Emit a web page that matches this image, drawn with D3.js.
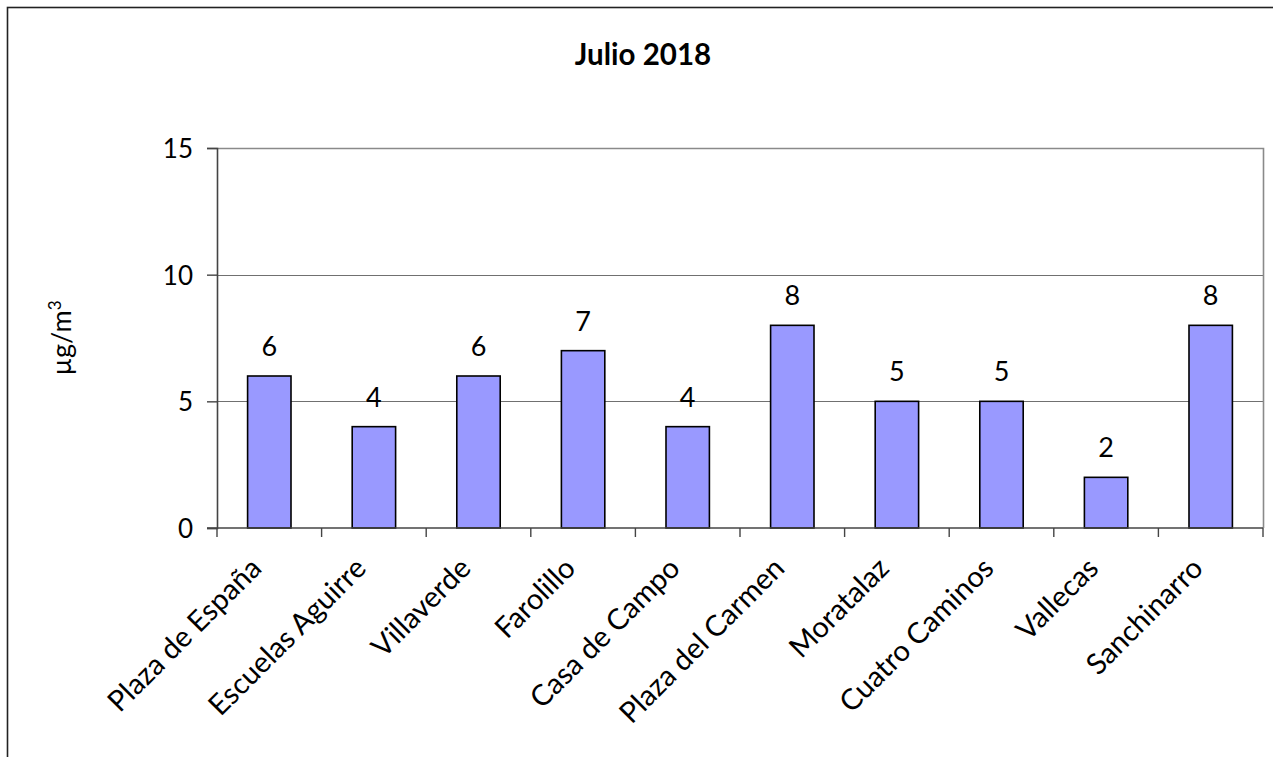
<!DOCTYPE html>
<html>
<head>
<meta charset="utf-8">
<script src="https://cdn.jsdelivr.net/npm/d3@7"></script>
<style>
  html, body { margin: 0; padding: 0; background: #ffffff; }
  svg { display: block; }
  text { font-family: Lato, "Open Sans", sans-serif; fill: #000; }
</style>
</head>
<body>
<svg id="chart" width="1273" height="757"></svg>
<script>
const title = "Julio 2018";
const categories = ["Plaza de España", "Escuelas Aguirre", "Villaverde", "Farolillo", "Casa de Campo",
                    "Plaza del Carmen", "Moratalaz", "Cuatro Caminos", "Vallecas", "Sanchinarro"];
const values = [6, 4, 6, 7, 4, 8, 5, 5, 2, 8];
const yTicks = [0, 5, 10, 15];
const yDomain = [0, 15];
const yLabel = "µg/m";
const yLabelSup = "3";

const W = 1273, H = 757;
const plot = { left: 217, right: 1263, top: 148, bottom: 528 };

const svg = d3.select("#chart");

// Chart area frame (extends beyond the visible window on the right and bottom)
svg.append("rect")
  .attr("x", 7.5).attr("y", 7.5)
  .attr("width", 1272).attr("height", 800)
  .attr("fill", "#fff").attr("stroke", "#222").attr("stroke-width", 1.6);

// Title
svg.append("text")
  .attr("x", 643).attr("y", 65)
  .attr("text-anchor", "middle")
  .style("font-weight", "bold").style("font-size", "29.5px")
  .text(title);

const x = d3.scaleBand().domain(categories).range([plot.left, plot.right]).paddingInner(0.585).paddingOuter(0.2925);
const xOuter = d3.scaleBand().domain(categories).range([plot.left, plot.right]);
const y = d3.scaleLinear().domain(yDomain).range([plot.bottom, plot.top]);

// Gridlines
svg.append("g")
  .selectAll("line").data(yTicks.filter(t => t > 0 && t < yDomain[1]))
  .join("line")
  .attr("x1", plot.left).attr("x2", plot.right)
  .attr("y1", d => Math.round(y(d)) + 0.5).attr("y2", d => Math.round(y(d)) + 0.5)
  .attr("stroke", "#707070").attr("stroke-width", 1.2);

// Plot area border (top and right)
svg.append("path")
  .attr("d", `M${plot.left},${plot.top + 0.5}H${plot.right + 0.5}V${plot.bottom}`)
  .attr("fill", "none").attr("stroke", "#8a8a8a").attr("stroke-width", 1.6);

// Bars
svg.append("g")
  .selectAll("rect").data(values)
  .join("rect")
  .attr("x", (d, i) => x(categories[i]))
  .attr("width", x.bandwidth())
  .attr("y", d => y(d))
  .attr("height", d => y(0) - y(d))
  .attr("fill", "#9999ff")
  .attr("stroke", "#000").attr("stroke-width", 1.6);

// Value labels
svg.append("g")
  .selectAll("text").data(values)
  .join("text")
  .attr("x", (d, i) => x(categories[i]) + x.bandwidth() / 2)
  .attr("y", d => y(d) - 20)
  .attr("text-anchor", "middle")
  .style("font-size", "27px")
  .text(d => d);

// Y axis
const yAxis = d3.axisLeft(y).tickValues(yTicks).tickSize(10).tickPadding(14).tickFormat(d3.format("d"));
const gy = svg.append("g").attr("transform", `translate(${plot.left},0)`).call(yAxis);
gy.select(".domain").attr("stroke", "#444").attr("stroke-width", 1.6);
gy.selectAll(".tick line").attr("stroke", "#444").attr("stroke-width", 1.4);
gy.selectAll(".tick text").style("font-size", "26px").style("font-family", "Lato, sans-serif").attr("fill", "#000").attr("dy", "0.36em");

// X axis: line + ticks at band boundaries
const gx = svg.append("g");
gx.append("line")
  .attr("x1", plot.left - 10).attr("x2", plot.right)
  .attr("y1", plot.bottom).attr("y2", plot.bottom)
  .attr("stroke", "#444").attr("stroke-width", 1.6);
const boundaries = categories.map(c => xOuter(c)).concat([xOuter.range()[1]]);
gx.selectAll("line.tick").data(boundaries)
  .join("line").attr("class", "tick")
  .attr("x1", d => d).attr("x2", d => d)
  .attr("y1", plot.bottom).attr("y2", plot.bottom + 9)
  .attr("stroke", "#444").attr("stroke-width", 1.4);

// Category labels (rotated -45°)
gx.selectAll("text").data(categories)
  .join("text")
  .attr("transform", d => `translate(${xOuter(d) + xOuter.bandwidth() / 2 - 6},${plot.bottom + 42}) rotate(-45)`)
  .attr("text-anchor", "end")
  .style("font-size", "29px")
  .text(d => d);

// Y axis title
const yt = svg.append("text")
  .attr("transform", `translate(71,${(plot.top + plot.bottom) / 2}) rotate(-90)`)
  .attr("text-anchor", "middle")
  .style("font-size", "27px");
yt.append("tspan").text(yLabel);
yt.append("tspan").attr("dy", "-0.6em").style("font-size", "17px").text(yLabelSup);
</script>
</body>
</html>
